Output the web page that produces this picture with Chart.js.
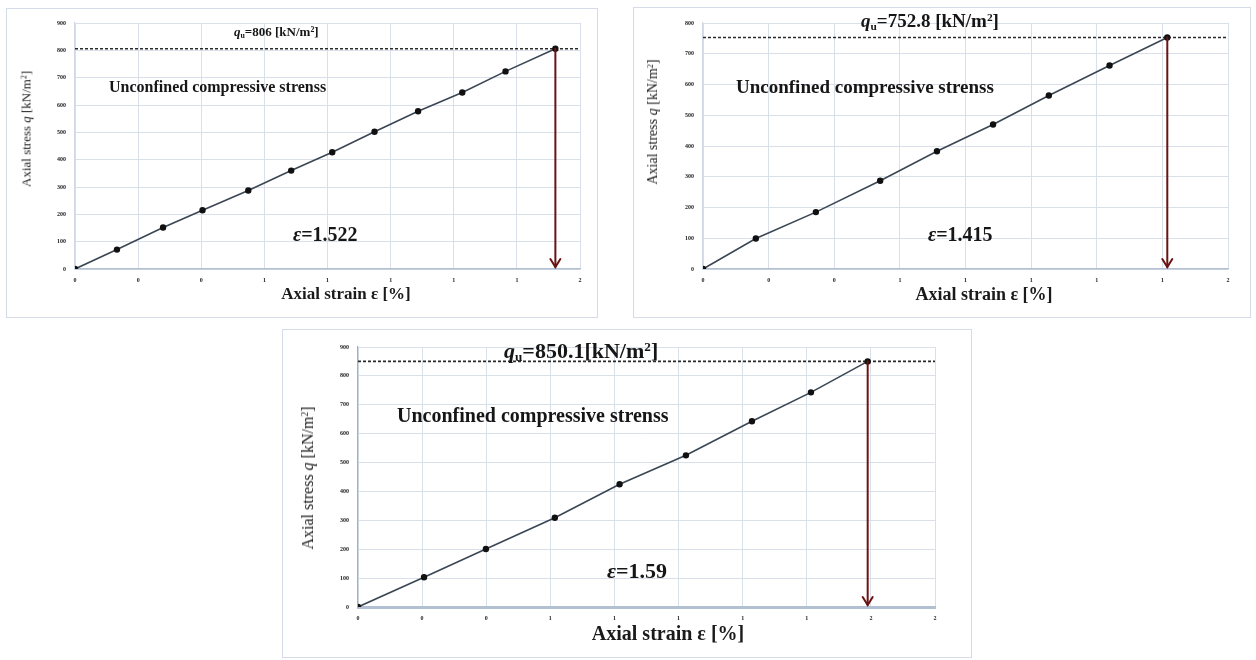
<!DOCTYPE html>
<html lang="en">
<head>
<meta charset="UTF-8">
<title>Unconfined compressive strength</title>
<script src="https://cdn.jsdelivr.net/npm/chart.js"></script>
<style>
  body { margin: 0; background: #fff; font-family: 'Liberation Serif', 'DejaVu Serif', serif; }
  .panel { position: absolute; border: 1px solid #d4dce8; box-sizing: border-box; background: #fff; }
  .panel canvas { position: absolute; left: -1px; top: -1px; }
  .note { position: absolute; white-space: nowrap; color: #161616; line-height: 1; }
  .note sub { font-size: 60%; vertical-align: -0.25em; line-height: 0; }
  .note sup { font-size: 60%; vertical-align: 0.55em; line-height: 0; }
  .axis-title { position: absolute; white-space: nowrap; color: #1a1a1a; line-height: 1; transform: translate(-50%, -50%); }
  .axis-title.y { transform: translate(-50%, -50%) rotate(-90deg); }
</style>
</head>
<body>

<div class="panel" id="p1" style="left:6px;top:8px;width:592px;height:310px;">
  <canvas id="c1"></canvas>
  <div class="note" style="left:227px;top:16px;font-size:13px;font-weight:bold;"><i>q</i><sub>u</sub>=806 [kN/m<sup>2</sup>]</div>
  <div class="note" style="left:102px;top:70px;font-size:16px;font-weight:bold;">Unconfined compressive strenss</div>
  <div class="note" style="left:286px;top:215px;font-size:20px;font-weight:bold;"><i>ε</i>=1.522</div>
  <div class="axis-title" style="left:339px;top:284px;font-size:17px;font-weight:bold;">Axial strain ε [%]</div>
  <div class="axis-title y" style="left:19px;top:120px;font-size:13px;">Axial stress <i>q</i> [kN/m<sup style="font-size:60%;vertical-align:0.5em;">2</sup>]</div>
</div>

<div class="panel" id="p2" style="left:633px;top:7px;width:618px;height:311px;">
  <canvas id="c2"></canvas>
  <div class="note" style="left:227px;top:3px;font-size:19px;font-weight:bold;"><i>q</i><sub>u</sub>=752.8 [kN/m<sup>2</sup>]</div>
  <div class="note" style="left:102px;top:69px;font-size:19px;font-weight:bold;">Unconfined compressive strenss</div>
  <div class="note" style="left:294px;top:216px;font-size:20px;font-weight:bold;"><i>ε</i>=1.415</div>
  <div class="axis-title" style="left:350px;top:286px;font-size:18px;font-weight:bold;">Axial strain ε [%]</div>
  <div class="axis-title y" style="left:19px;top:114px;font-size:14px;">Axial stress <i>q</i> [kN/m<sup style="font-size:60%;vertical-align:0.5em;">2</sup>]</div>
</div>

<div class="panel" id="p3" style="left:282px;top:329px;width:690px;height:329px;">
  <canvas id="c3"></canvas>
  <div class="note" style="left:221px;top:10px;font-size:22px;font-weight:bold;"><i>q</i><sub>u</sub>=850.1[kN/m<sup>2</sup>]</div>
  <div class="note" style="left:114px;top:75px;font-size:20px;font-weight:bold;">Unconfined compressive strenss</div>
  <div class="note" style="left:324px;top:230px;font-size:22px;font-weight:bold;"><i>ε</i>=1.59</div>
  <div class="axis-title" style="left:385px;top:303px;font-size:20px;font-weight:bold;">Axial strain ε [%]</div>
  <div class="axis-title y" style="left:25px;top:148px;font-size:16px;">Axial stress <i>q</i> [kN/m<sup style="font-size:60%;vertical-align:0.5em;">2</sup>]</div>
</div>

<script>
// test 1
const strain1 = [0, 0.133, 0.279, 0.404, 0.549, 0.685, 0.815, 0.949, 1.087, 1.227, 1.364, 1.522];
const stress1 = [0, 71, 152, 215, 287, 360, 427, 502, 577, 646, 723, 806];
// test 2
const strain2 = [0, 0.161, 0.344, 0.540, 0.713, 0.884, 1.054, 1.239, 1.415];
const stress2 = [0, 99, 185, 287, 383, 470, 564, 662, 752.8];
// test 3
const strain3 = [0, 0.206, 0.399, 0.614, 0.816, 1.023, 1.229, 1.413, 1.59];
const stress3 = [0, 103, 201, 309, 425, 525, 643, 743, 850.1];

// peak (q_u) of each test
const peakStrain = [1.522, 1.415, 1.59];
const peakStress = [806, 752.8, 850.1];

// axis ranges
const xMax = [1.6, 1.6, 1.8];
const yMax = [900, 800, 900];
const xStep = 0.2;
const yStep = 100;

const SERIF = "'Liberation Serif', 'DejaVu Serif', serif";

// arrow from peak point down to the strain axis
const peakArrow = {
  id: 'peakArrow',
  afterDatasetsDraw(chart, args, opts) {
    const { ctx, scales: { x, y } } = chart;
    const px = x.getPixelForValue(opts.strain);
    const top = y.getPixelForValue(opts.stress);
    const bottom = y.getPixelForValue(0);
    ctx.save();
    ctx.strokeStyle = '#6a1313';
    ctx.lineWidth = 2;
    ctx.lineCap = 'round';
    ctx.beginPath();
    ctx.moveTo(px, top);
    ctx.lineTo(px, bottom - 2);
    ctx.stroke();
    ctx.beginPath();
    ctx.moveTo(px - 5, bottom - 10);
    ctx.lineTo(px, bottom - 2);
    ctx.lineTo(px + 5, bottom - 10);
    ctx.stroke();
    ctx.restore();
  }
};

// box: panel rect, plot: wanted chart area (page px)
function makeChart(id, strain, stress, i, box, plot, st) {
  const canvas = document.getElementById(id);
  canvas.width = box.w;
  canvas.height = box.h;

  const yWidth = plot.l - box.x;
  const xHeight = 20;
  const padBottom = (box.y + box.h) - plot.b - xHeight;

  const points = strain.map((v, k) => ({ x: v, y: stress[k] }));

  new Chart(canvas, {
    type: 'scatter',
    data: {
      datasets: [
        {
          data: points,
          showLine: true,
          borderColor: '#3b4655',
          borderWidth: 1.6,
          pointRadius: 2.4,
          pointBackgroundColor: '#111',
          pointBorderColor: '#111',
          tension: 0
        },
        {
          data: [{ x: 0, y: peakStress[i] }, { x: xMax[i], y: peakStress[i] }],
          showLine: true,
          borderColor: '#2a2a2a',
          borderWidth: 1.6,
          borderDash: [3, 2],
          pointRadius: 0
        }
      ]
    },
    options: {
      responsive: false,
      animation: false,
      layout: {
        padding: { left: 0, top: plot.t - box.y, right: (box.x + box.w) - plot.r, bottom: padBottom }
      },
      plugins: {
        legend: { display: false },
        tooltip: { enabled: false },
        peakArrow: { strain: peakStrain[i], stress: peakStress[i] }
      },
      scales: {
        x: {
          type: 'linear',
          min: 0,
          max: xMax[i],
          afterFit: s => { s.height = xHeight; },
          grid: { color: '#d9e0ea', lineWidth: 1, drawTicks: false },
          border: { color: '#b3c0d2', width: st.xBorder },
          ticks: {
            stepSize: xStep,
            autoSkip: false,
            maxRotation: 0,
            padding: 8,
            color: '#222',
            font: { family: SERIF, size: 6, weight: 'bold' },
            callback: v => Math.round(v).toString()
          }
        },
        y: {
          type: 'linear',
          min: 0,
          max: yMax[i],
          afterFit: s => { s.width = yWidth; },
          grid: { color: '#d9e0ea', lineWidth: 1, drawTicks: false },
          border: { color: st.yBorderColor, width: 1.2 },
          ticks: {
            stepSize: yStep,
            padding: 9,
            color: '#222',
            font: { family: SERIF, size: 6, weight: 'bold' }
          }
        }
      }
    },
    plugins: [peakArrow]
  });
}

makeChart('c1', strain1, stress1, 0,
  { x: 6, y: 8, w: 592, h: 310 },
  { l: 75, r: 580, t: 23, b: 269 },
  { xBorder: 1.5, yBorderColor: '#d0d8e4' });

makeChart('c2', strain2, stress2, 1,
  { x: 633, y: 7, w: 618, h: 311 },
  { l: 703, r: 1228, t: 23, b: 269 },
  { xBorder: 1.5, yBorderColor: '#d0d8e4' });

makeChart('c3', strain3, stress3, 2,
  { x: 282, y: 329, w: 690, h: 329 },
  { l: 358, r: 935, t: 347, b: 607 },
  { xBorder: 3, yBorderColor: '#9fb0c6' });
</script>
</body>
</html>
